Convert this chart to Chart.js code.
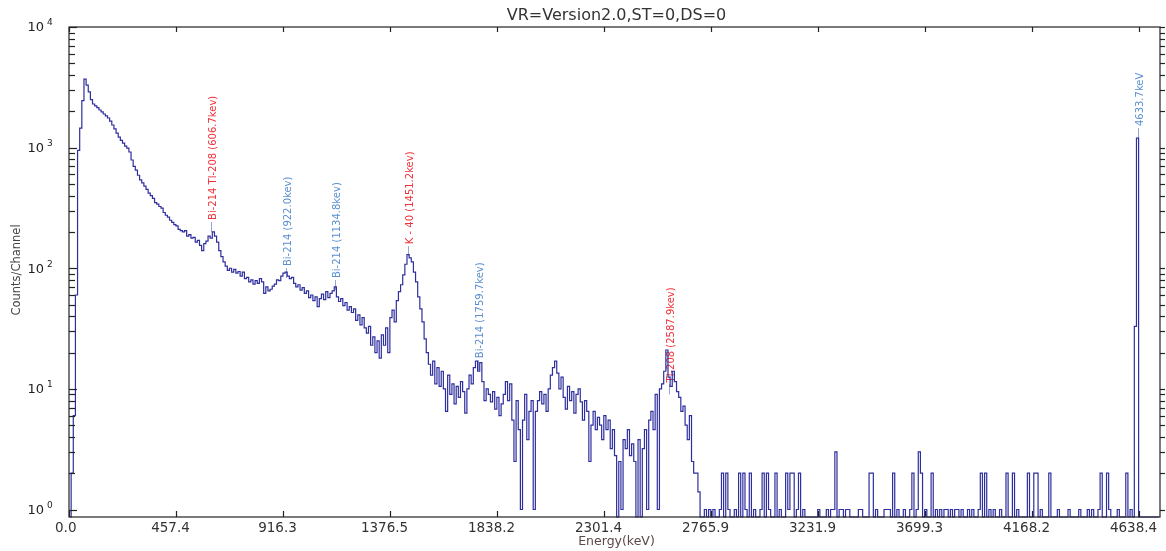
<!DOCTYPE html>
<html>
<head>
<meta charset="utf-8">
<title>Gamma spectrum</title>
<script src="https://cdn.jsdelivr.net/npm/chart.js@4.4.1/dist/chart.umd.min.js"></script>
<style>
    html, body { margin: 0; padding: 0; background: #ffffff; }
    #wrap { width: 1166px; height: 551px; }
</style>
</head>
<body>
<div id="wrap"><canvas id="spectrumChart" width="1166" height="551"></canvas></div>
<script>
// Counts per stored bin (each bin = 2 channels)
const countsLow = [
    0, 2, 6, 60, 950, 1450, 2450, 3700, 3300, 2900,
    2500, 2300, 2220, 2150, 2050, 1980, 1900, 1830, 1760, 1660,
    1540, 1430, 1320, 1220, 1150, 1090, 1030, 990, 920, 790,
    700, 650, 590, 540, 510, 480, 450, 420, 400, 380,
    350, 340, 325, 315, 290, 275, 265, 250, 240, 230,
    225, 210, 205, 200, 205, 185, 190, 178, 180, 165,
    170, 155, 140, 160, 168, 185, 178, 200, 185, 165,
    140, 125, 113, 104, 96, 100, 93, 98, 91, 94,
    86, 93, 82, 84, 77, 80, 74, 79, 75, 82,
    77, 62, 70, 65, 67, 71, 74, 80, 79, 86,
    91, 93, 86, 82, 84, 75, 70, 73, 66, 69,
    62, 65, 57, 60, 54, 58, 48, 56, 61, 55,
    64, 57, 62, 65, 70, 58, 53, 56, 49, 52,
    45, 48, 43, 46, 37, 41, 34, 39, 32, 29,
    33, 23, 27, 20, 25, 18, 28, 23, 32, 20
];
const countsMid = [
    39, 45, 36, 54, 64, 73, 88, 108, 130, 122,
    113, 93, 77, 58, 46, 36, 26, 20, 16, 13,
    17, 11, 15, 10.5, 14, 10, 6.5, 13, 9, 11,
    7.5, 10.5, 8.5, 11.5, 9.5, 6.3, 10, 13, 11, 15,
    17, 14, 16.5, 11.5, 8, 10, 9, 7.8, 9.5, 6.8,
    8.5, 6, 7.5, 9, 11.5, 8, 11, 5.5, 2.5, 8,
    4.6, 1, 5.5, 9, 3.8, 6.5, 8, 1, 6.5, 8,
    9.5, 7.5, 9, 6.5, 10, 13, 15, 17, 13.5, 10,
    12.5, 8.5, 6.8, 10.5, 8, 9.5, 6.3, 9, 10, 7.8,
    5.5, 8, 6.5, 2.5, 5, 6.5, 4.6, 5.8, 5, 3.8,
    6, 4.6, 5.5, 3.2, 4.6, 2.8, 0, 2.5, 1, 3.8,
    3.2, 4.6, 2.8, 3.5, 2.5, 0, 3.8, 0, 3.2, 4.6,
    1, 5.5, 6.5, 4.6, 9, 1, 10, 11, 14, 21,
    12.5, 10.5, 14, 11.5, 9.5, 8.5, 6.5, 7.2, 5, 3.8,
    6, 2.5, 2, 2, 1.4, 0
];
const countsHigh = [
    0, 1, 0, 1, 0, 1, 0, 0, 1, 2,
    0, 2, 1, 0, 0, 1, 0, 2, 0, 2,
    1, 0, 2, 0, 1, 0, 0, 1, 2, 0,
    2, 1, 0, 0, 2, 0, 1, 0, 0, 2,
    1, 2, 2, 0, 1, 2, 0, 1, 0, 0,
    0, 0, 0, 0, 1, 0, 0, 0, 1, 0,
    1, 1, 3, 0, 1, 1, 0, 1, 1, 0,
    0, 0, 0, 1, 1, 0, 0, 0, 2, 2,
    0, 1, 0, 0, 0, 1, 1, 1, 0, 2,
    0, 1, 0, 0, 1, 0, 0, 1, 2, 0,
    1, 3, 2, 0, 1, 0, 0, 2, 0, 1,
    0, 1, 0, 1, 1, 0, 1, 0, 1, 1,
    0, 1, 0, 0, 1, 0, 1, 0, 0, 1,
    2, 0, 2, 0, 1, 0, 1, 0, 0, 1,
    0, 0, 2, 0, 0, 2, 0, 1, 0, 0,
    0, 0, 2, 0, 0, 2, 2, 0, 1, 0,
    0, 0, 2, 0, 0, 0, 1, 0, 0, 0,
    0, 1, 0, 0, 0, 0, 1, 0, 0, 0,
    1, 0, 1, 0, 0, 1, 2, 0, 0, 2,
    1, 0, 0, 0, 1, 0, 0, 0, 2, 0,
    1, 0, 33, 1200, 0, 0, 0, 0, 0, 0,
    0, 0, 0, 0
];

// Axis ticks: channel positions and their energy labels
const tickChannels = [0, 100, 200, 300, 400, 500, 600, 700, 800, 900, 1000];
const energyTickLabels = ['0.0', '457.4', '916.3', '1376.5', '1838.2', '2301.4', '2765.9', '3231.9', '3699.3', '4168.2', '4638.4'];
const decadeExponents = [0, 1, 2, 3, 4];

// Peak identifications
const peakNames = ['Bi-214 Tl-208 (606.7kev)', 'Bi-214 (922.0kev)', 'Bi-214 (1134.8kev)', 'K - 40 (1451.2kev)', 'Bi-214 (1759.7kev)', 'Tl-208 (2587.9kev)', '4633.7keV'];
const peakChannels = [133, 202.5, 248.7, 316.5, 382.8, 561.3, 999];
const peakMarkerCounts = [200, 83, 66, 126, 14.3, 9, 1200];
const peakIsMain = [true, false, false, true, false, true, false];

const BIN_WIDTH = 2;
const CHANNEL_MAX = 1020;
const Y_MIN = 0.867;
const Y_MAX = 10000;

const counts = countsLow.concat(countsMid, countsHigh);
const points = counts.map((c, i) => ({ x: i * BIN_WIDTH + 1, y: c > 0 ? c : Y_MIN }));

function strokeLine(ctx, x1, y1, x2, y2) {
    ctx.beginPath();
    ctx.moveTo(x1, y1);
    ctx.lineTo(x2, y2);
    ctx.stroke();
}

function drawPeakLabels(chart) {
    const { ctx, scales: { x, y } } = chart;
    ctx.save();
    ctx.font = '10px "DejaVu Sans"';
    ctx.textBaseline = 'middle';
    ctx.textAlign = 'left';
    peakNames.forEach((name, i) => {
        const px = Math.round(x.getPixelForValue(peakChannels[i])) + 0.5;
        const bottom = y.getPixelForValue(peakMarkerCounts[i]);
        const markTop = bottom - 10;
        ctx.strokeStyle = '#97a3da';
        ctx.lineWidth = 1;
        strokeLine(ctx, px, bottom, px, markTop);
        ctx.save();
        ctx.translate(px + 1.5, markTop - 2);
        ctx.rotate(-Math.PI / 2);
        ctx.fillStyle = peakIsMain[i] ? '#f0323a' : '#5b8fd0';
        ctx.fillText(name, 0, 0);
        ctx.restore();
    });
    ctx.restore();
}

function drawAxes(chart) {
    const { ctx, chartArea: a, scales: { x, y } } = chart;
    ctx.save();
    ctx.strokeStyle = '#222222';
    ctx.lineWidth = 1.2;
    ctx.strokeRect(a.left, a.top, a.right - a.left, a.bottom - a.top);

    // x ticks and energy labels
    ctx.font = '13.5px "DejaVu Sans"';
    ctx.fillStyle = '#333333';
    ctx.textAlign = 'center';
    ctx.textBaseline = 'top';
    tickChannels.forEach((ch, i) => {
        const px = Math.round(x.getPixelForValue(ch)) + 0.5;
        strokeLine(ctx, px, a.bottom, px, a.bottom - 6);
        strokeLine(ctx, px, a.top, px, a.top + 5);
        const w = ctx.measureText(energyTickLabels[i]).width;
        const cx = Math.max(px - 6, a.left - 14 + w / 2);
        ctx.fillText(energyTickLabels[i], cx, a.bottom + 5);
    });

    // y ticks: majors at decades, minors 2..9
    decadeExponents.forEach(d => {
        for (let m = 1; m <= 9; m++) {
            const v = m * Math.pow(10, d);
            if (v > Y_MAX) break;
            const py = Math.round(y.getPixelForValue(v)) + 0.5;
            const len = m === 1 ? 8 : 6;
            strokeLine(ctx, a.left, py, a.left + len, py);
            strokeLine(ctx, a.right, py, a.right + 5, py);
        }
        const py = y.getPixelForValue(Math.pow(10, d));
        ctx.fillStyle = '#222222';
        ctx.textAlign = 'right';
        ctx.textBaseline = 'middle';
        ctx.font = '13px "DejaVu Sans"';
        ctx.fillText('10', 44, py + 1);
        ctx.textAlign = 'left';
        ctx.font = '9px "DejaVu Sans"';
        ctx.fillText(String(d), 47, py - 4);
    });

    // titles
    ctx.fillStyle = '#333333';
    ctx.textAlign = 'center';
    ctx.textBaseline = 'middle';
    ctx.font = '16px "DejaVu Sans"';
    ctx.fillText('VR=Version2.0,ST=0,DS=0', (a.left + a.right) / 2 + 2, 16);
    ctx.fillStyle = '#5a4848';
    ctx.font = '12.5px "DejaVu Sans"';
    ctx.fillText('Energy(keV)', (a.left + a.right) / 2 + 2, 542);
    ctx.save();
    ctx.translate(17, 270);
    ctx.rotate(-Math.PI / 2);
    ctx.fillStyle = '#444444';
    ctx.font = '11.5px "DejaVu Sans"';
    ctx.fillText('Counts/Channel', 0, 0);
    ctx.restore();
    ctx.restore();
}

const spectrumFrame = {
    id: 'spectrumFrame',
    beforeDatasetsDraw(chart) { drawPeakLabels(chart); },
    afterDatasetsDraw(chart) { drawAxes(chart); }
};

new Chart(document.getElementById('spectrumChart').getContext('2d'), {
    type: 'line',
    data: {
        datasets: [{
            label: 'Counts/Channel',
            data: points,
            borderColor: '#2e2e9e',
            borderWidth: 1.2,
            pointRadius: 0,
            stepped: 'middle',
            fill: false,
            clip: 3
        }]
    },
    options: {
        responsive: false,
        animation: false,
        devicePixelRatio: 1,
        layout: { padding: { left: 69, top: 27, right: 6, bottom: 34 } },
        plugins: {
            legend: { display: false },
            tooltip: { enabled: false }
        },
        scales: {
            x: { type: 'linear', min: 0, max: CHANNEL_MAX, display: false },
            y: { type: 'logarithmic', min: Y_MIN, max: Y_MAX, display: false }
        }
    },
    plugins: [spectrumFrame]
});
</script>
</body>
</html>
